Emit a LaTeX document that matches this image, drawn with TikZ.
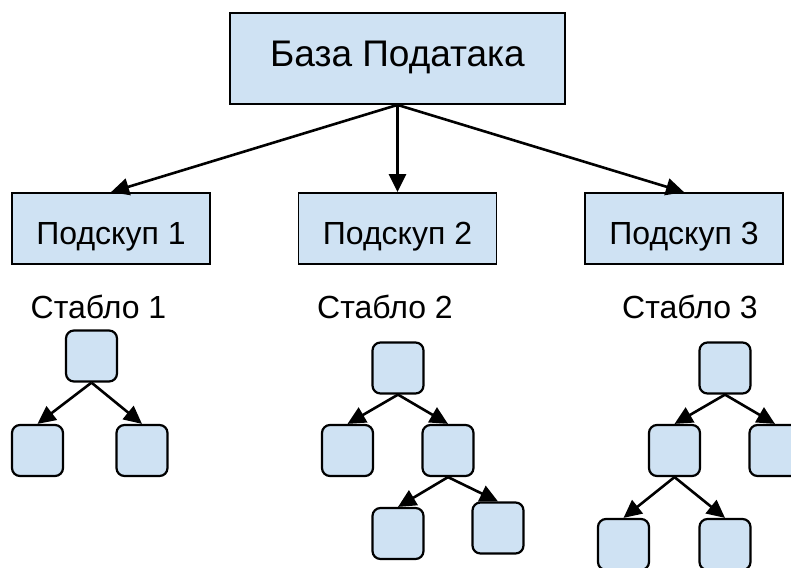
\documentclass[tikz,border=0pt]{standalone}
\usepackage{fontspec}
\setmainfont{Liberation Sans}
\usetikzlibrary{arrows.meta}
\definecolor{boxblue}{HTML}{CFE2F3}
\tikzset{
  dbbox/.style={draw=black, fill=boxblue, line width=1.8pt,
    minimum width=335pt, minimum height=91pt, inner sep=0pt,
    text height=17pt, text depth=0pt,
    font=\fontsize{37}{42}\selectfont},
  subbox/.style={draw=black, fill=boxblue, line width=1.8pt,
    minimum width=198pt, minimum height=71pt, inner sep=0pt,
    text height=32pt, text depth=0pt,
    font=\fontsize{32}{36}\selectfont},
  leaf/.style={draw=black, fill=boxblue, line width=2.2pt, rounded corners=8pt,
    minimum width=51pt, minimum height=51pt, inner sep=0pt},
  treelabel/.style={font=\fontsize{32}{36}\selectfont, inner sep=0pt, anchor=base},
  link/.style={-{Triangle[length=18pt,width=17pt]}, line width=2.6pt},
}
\begin{document}
\begin{tikzpicture}[x=1pt,y=-1pt]
   \useasboundingbox (0,0) rectangle (791,567);
   \clip (0,0) rectangle (791,567);

   % database and subsets
   \node[dbbox] (db) at (397.5,58.5) {База Података};
   \node[subbox] (sub1) at (111,228.5) {Подскуп 1};
   \node[subbox] (sub2) at (397.5,228.5) {Подскуп 2};
   \node[subbox] (sub3) at (684,228.5) {Подскуп 3};

   \draw[link] (db.south) -- (sub1.north);
   \draw[link] (db.south) -- (sub2.north);
   \draw[link] (db.south) -- (sub3.north);

   % tree labels
   \node[treelabel] (st1) at (98.5,318) {Стабло 1};
   \node[treelabel] (st2) at (385,318) {Стабло 2};
   \node[treelabel] (st3) at (690,318) {Стабло 3};

   % tree 1
   \node[leaf] (r1) at (91.5,356) {};
   \node[leaf] (a1) at (37.5,450.5) {};
   \node[leaf] (b1) at (142,450.5) {};
   \draw[link] (r1.south) -- (a1.north);
   \draw[link] (r1.south) -- (b1.north);

   % tree 2
   \node[leaf] (r2) at (398,368) {};
   \node[leaf] (a2) at (347.5,450.5) {};
   \node[leaf] (b2) at (448,450.5) {};
   \node[leaf] (c2) at (398,533.5) {};
   \node[leaf] (d2) at (498,528) {};
   \draw[link] (r2.south) -- (a2.north);
   \draw[link] (r2.south) -- (b2.north);
   \draw[link] (b2.south) -- (c2.north);
   \draw[link] (b2.south) -- (d2.north);

   % tree 3
   \node[leaf] (r3) at (725,368) {};
   \node[leaf] (a3) at (674.5,450.5) {};
   \node[leaf] (b3) at (775,450.5) {};
   \node[leaf] (c3) at (623.5,544.5) {};
   \node[leaf] (d3) at (725,544.5) {};
   \draw[link] (r3.south) -- (a3.north);
   \draw[link] (r3.south) -- (b3.north);
   \draw[link] (a3.south) -- (c3.north);
   \draw[link] (a3.south) -- (d3.north);
\end{tikzpicture}
\end{document}
